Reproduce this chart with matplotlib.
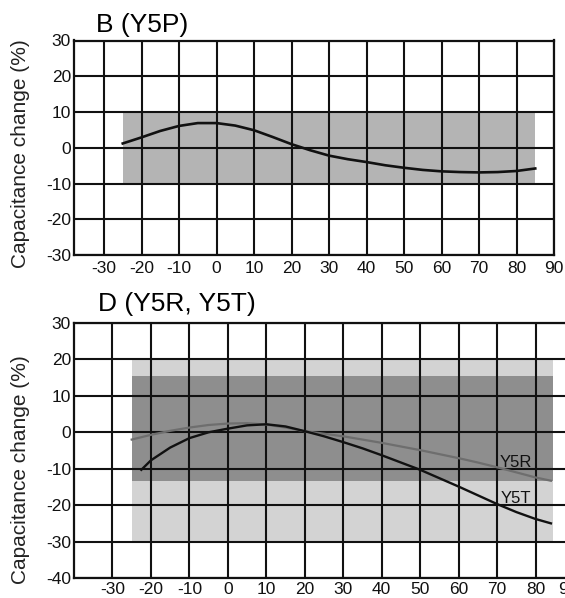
import matplotlib
matplotlib.use('Agg')
import matplotlib.pyplot as plt
from matplotlib.transforms import ScaledTranslation

plt.rcParams['font.family'] = ['Liberation Sans', 'DejaVu Sans']
plt.rcParams['axes.unicode_minus'] = False

# B (Y5P) curve
temp_b = [-25, -20, -15, -10, -5, 0, 5, 10, 15, 20, 25, 30, 35, 40, 45, 50,
          55, 60, 65, 70, 75, 80, 85]
cap_b = [1.2, 2.9, 4.7, 6.1, 6.9, 6.9, 6.2, 4.9, 3.0, 1.0, -0.7, -2.2, -3.2,
         -4.0, -4.9, -5.6, -6.2, -6.6, -6.8, -6.9, -6.8, -6.5, -5.8]

# D (Y5R, Y5T) curves
temp_r = [-25, -20, -15, -10, -5, 0, 5, 10, 15, 20, 25, 30, 35, 40, 45, 50,
          55, 60, 65, 70, 75, 80, 84]
cap_r = [-2.0, -0.7, 0.4, 1.3, 2.0, 2.4, 2.5, 2.1, 1.3, 0.3, -0.4, -1.1, -2.0,
         -2.9, -3.9, -4.9, -6.0, -7.1, -8.3, -9.6, -11.0, -12.4, -13.3]
temp_t = [-22.5, -20, -15, -10, -5, 0, 5, 10, 15, 20, 25, 30, 35, 40, 45, 50,
          55, 60, 65, 70, 75, 80, 84]
cap_t = [-10.3, -7.7, -4.2, -1.6, 0.0, 1.0, 1.9, 2.2, 1.6, 0.3, -1.1, -2.7,
         -4.4, -6.3, -8.3, -10.3, -12.6, -14.9, -17.3, -19.7, -21.9, -23.8, -25.0]

# spec bands: (t_min, t_max, c_min, c_max)
band_b = (-25, 85, -10, 10)
band_d_light = (-25, 84.5, -30, 20)
band_d_dark = (-25, 84.5, -13.5, 15.5)

x_ticks = [-30, -20, -10, 0, 10, 20, 30, 40, 50, 60, 70, 80, 90]
y_ticks_b = [-30, -20, -10, 0, 10, 20, 30]
y_ticks_d = [-40, -30, -20, -10, 0, 10, 20, 30]

W, H = 565, 598
fig = plt.figure(figsize=(W / 100, H / 100), dpi=100)
ax1 = fig.add_axes([74 / W, 1 - 255 / H, 480 / W, 214.5 / H])
ax2 = fig.add_axes([74 / W, 1 - 578 / H, 500 / W, 255 / H])


def style_axes(ax, xlim, yticks, xpad):
    ax.set_xlim(*xlim)
    ax.set_ylim(yticks[0], yticks[-1])
    ax.set_xticks(x_ticks)
    ax.set_yticks(yticks)
    ax.set_xticklabels([str(v) for v in x_ticks])
    ax.set_yticklabels([str(v) for v in yticks])
    ax.tick_params(length=0, labelsize=12.5, colors='#111111')
    ax.tick_params(axis='y', pad=2.2)
    ax.tick_params(axis='x', pad=xpad)
    ax.grid(True, color='#111111', linewidth=1.5)
    for s in ax.spines.values():
        s.set_linewidth(1.6)
        s.set_color('#111111')


style_axes(ax1, (-38, 90), y_ticks_b, 4.3)
ax1.fill_between([band_b[0], band_b[1]], band_b[2], band_b[3],
                 color='#b4b4b4', linewidth=0)
ax1.plot(temp_b, cap_b, color='#111111', linewidth=1.9, zorder=3)

style_axes(ax2, (-40, 90), y_ticks_d, 2.6)
ax2.fill_between([band_d_light[0], band_d_light[1]], band_d_light[2],
                 band_d_light[3], color='#d3d3d3', linewidth=0)
ax2.fill_between([band_d_dark[0], band_d_dark[1]], band_d_dark[2],
                 band_d_dark[3], color='#8e8e8e', linewidth=0)
ax2.plot(temp_r, cap_r, color='#6e6e6e', linewidth=1.6, zorder=3)
ax2.plot(temp_t, cap_t, color='#111111', linewidth=1.7, zorder=3)
ax2.text(70.8, -9.5, 'Y5R', fontsize=12, va='baseline', color='#111111')
ax2.text(71, -19.4, 'Y5T', fontsize=12, va='baseline', color='#111111')

# the last label of the lower chart sits a little left of its gridline
last = ax2.get_xticklabels()[-1]
last.set_transform(last.get_transform()
                   + ScaledTranslation(-6 / 100, 0, fig.dpi_scale_trans))

fig.text(96 / W, 1 - 32 / H, 'B (Y5P)', fontsize=19, va='baseline')
fig.text(98 / W, 1 - 311 / H, 'D (Y5R, Y5T)', fontsize=19, va='baseline')
fig.text(21 / W, 1 - 154 / H, 'Capacitance change (%)', rotation=90,
         fontsize=15, ha='center', va='center', color='#222222')
fig.text(21 / W, 1 - 470 / H, 'Capacitance change (%)', rotation=90,
         fontsize=15, ha='center', va='center', color='#222222')

fig.savefig('out.png', dpi=100)
